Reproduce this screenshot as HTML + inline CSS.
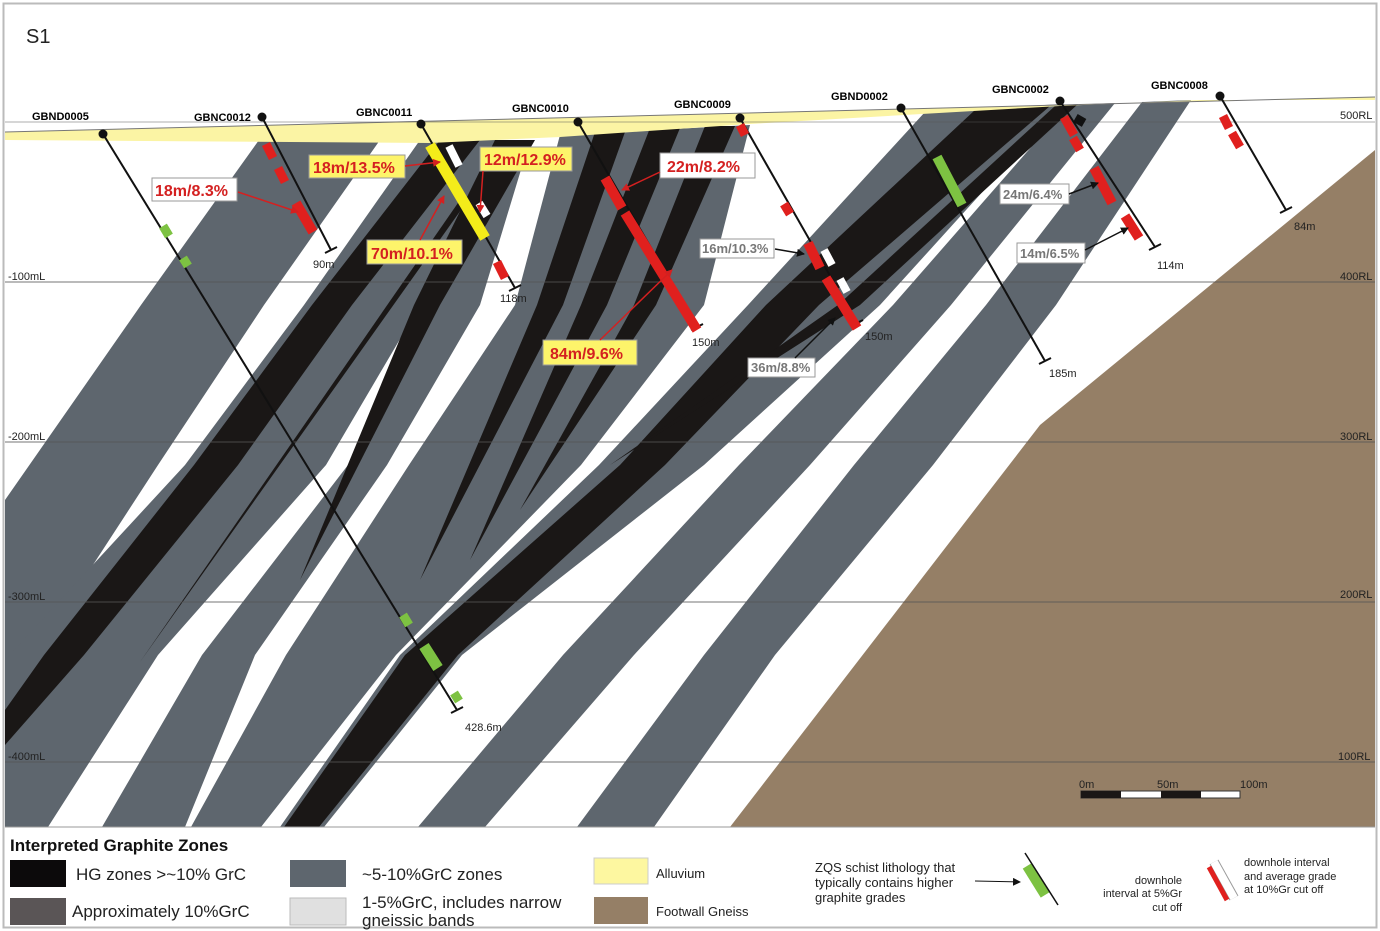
<!DOCTYPE html>
<html><head><meta charset="utf-8"><style>
body{margin:0;background:#fff}
svg{display:block}
text{font-family:"Liberation Sans",Arial,sans-serif}
.n{font-family:"Liberation Sans Narrow","Liberation Sans",sans-serif}
.hn{font-size:11px;font-weight:bold}
.gl{font-size:11px;fill:#222}
.lb{font-size:16px;font-weight:bold;fill:#d42020}
.lg{font-size:13px;font-weight:bold;fill:#777}
</style></head><body>
<svg width="1380" height="931" viewBox="0 0 1380 931" xmlns="http://www.w3.org/2000/svg">
<defs>
<marker id="ar" markerWidth="8" markerHeight="8" refX="7" refY="4" orient="auto" markerUnits="userSpaceOnUse"><path d="M0,0 L8,4 L0,8z" fill="#d42020"/></marker>
<marker id="ak" markerWidth="8" markerHeight="8" refX="7" refY="4" orient="auto" markerUnits="userSpaceOnUse"><path d="M0,0 L8,4 L0,8z" fill="#111"/></marker>
<clipPath id="c"><rect x="5" y="0" width="1370" height="827"/></clipPath>
</defs>
<rect x="0" y="0" width="1380" height="931" fill="#fff"/>
<rect x="3.5" y="3.5" width="1373" height="924" fill="none" stroke="#bbb" stroke-width="2"/>
<g clip-path="url(#c)">
<g fill="#5e666e">
<polygon points="259,140 380,140 264,305 158,465 5,700 5,500 141,305"/>
<polygon points="420,140 500,140 420,305 326,465 158,655 48,827 5,827 5,660 185,465 304,305"/>
<polygon points="500,140 530,140 480,305 387,465 255,655 185,827 102,827 202,655 348,465 420,305"/>
<polygon points="560,135 750,125 704,305 581,465 396,655 261,827 191,827 286,655 409,465 515,305"/>
<polygon points="925,112 1062,104 880,305 704,465 462,655 324,827 280,827 400,655 599,465 748,305"/>
<polygon points="1068,105 1115,103 951,305 810,465 634,655 485,827 418,827 563,655 739,465 893,305"/>
<polygon points="1142,102 1191,100 1056,305 933,465 775,655 654,827 577,827 704,655 854,465 986,305"/>
</g>
<g fill="#1a1716">
<polygon points="440,140 480,140 352,305 238,465 84,655 5,745 5,710 44,655 194,465 312,305"/>
<polygon points="460,200 468,200 140,662"/>
<polygon points="495,140 535,140 440,305 414,305"/>
<polygon points="414,305 440,305 300,580"/>
<polygon points="595,132 625,132 563,305 537,305"/>
<polygon points="537,305 563,305 420,580"/>
<polygon points="650,128 680,128 607,305 581,305"/>
<polygon points="581,305 607,305 470,560"/>
<polygon points="705,126 735,126 656,305 634,305"/>
<polygon points="634,305 656,305 520,510"/>
<polygon points="975,110 1050,106 819,305 665,465 458,655 319,827 284,827 405,655 620,465 766,305"/>
<polygon points="1055,106 1078,104 860,305 838,305"/>
<polygon points="838,305 860,305 610,465"/>
</g>
<polygon points="730,827 1040,425 1375,150 1375,827" fill="#957f66"/>
<polygon points="5,132 1375,97 1375,100 1200,100 1060,106 750,124 560,137 430,143 5,140" fill="#fbf4a4"/>
<polyline points="5,132 1375,97" fill="none" stroke="#777" stroke-width="1"/>
</g>
<g stroke="#555" stroke-width="1" opacity="0.8">
<line x1="5" y1="122" x2="1375" y2="122" stroke-opacity="0.6"/>
<line x1="5" y1="282" x2="1375" y2="282"/>
<line x1="5" y1="442" x2="1375" y2="442"/>
<line x1="5" y1="602" x2="1375" y2="602"/>
<line x1="5" y1="762" x2="1375" y2="762"/>
</g>
<line x1="5" y1="827" x2="1375" y2="827" stroke="#999"/>
<g class="gl n">
<text x="8" y="280">-100mL</text><text x="8" y="440">-200mL</text><text x="8" y="600">-300mL</text><text x="8" y="760">-400mL</text>
<text x="1340" y="119">500RL</text><text x="1340" y="280">400RL</text><text x="1340" y="440">300RL</text><text x="1340" y="598">200RL</text><text x="1338" y="760">100RL</text>
</g>
<text x="26" y="43" font-size="20" fill="#222">S1</text>
<g stroke="#111" stroke-width="2" fill="none">
<line x1="103" y1="134" x2="457" y2="710"/><line x1="451" y1="713" x2="463" y2="707"/>
<line x1="262" y1="117" x2="331" y2="250"/><line x1="325" y1="253" x2="337" y2="247"/>
<line x1="421" y1="124" x2="515" y2="288"/><line x1="509" y1="291" x2="521" y2="285"/>
<line x1="578" y1="122" x2="697" y2="327"/><line x1="691" y1="330" x2="703" y2="324"/>
<line x1="740" y1="118" x2="857" y2="323"/><line x1="851" y1="326" x2="863" y2="320"/>
<line x1="901" y1="108" x2="1045" y2="361"/><line x1="1039" y1="364" x2="1051" y2="358"/>
<line x1="1060" y1="101" x2="1155" y2="247"/><line x1="1149" y1="250" x2="1161" y2="244"/>
<line x1="1220" y1="96" x2="1286" y2="210"/><line x1="1280" y1="213" x2="1292" y2="207"/>
</g>
<g fill="#111">
<circle cx="103" cy="134" r="4.5"/><circle cx="262" cy="117" r="4.5"/><circle cx="421" cy="124" r="4.5"/><circle cx="578" cy="122" r="4.5"/><circle cx="740" cy="118" r="4.5"/><circle cx="901" cy="108" r="4.5"/><circle cx="1060" cy="101" r="4.5"/><circle cx="1220" cy="96" r="4.5"/>
<rect x="1075" y="116" width="10" height="9" transform="rotate(30 1080 120)"/>
</g>
<g stroke-width="9" stroke-linecap="butt">
<line x1="163" y1="226" x2="169" y2="236" stroke="#7dc242"/>
<line x1="183" y1="258" x2="188" y2="266" stroke="#7dc242"/>
<line x1="403" y1="615" x2="409" y2="625" stroke="#7dc242"/>
<line x1="424" y1="646" x2="438" y2="668" stroke="#7dc242" stroke-width="11"/>
<line x1="454" y1="693" x2="459" y2="701" stroke="#7dc242"/>
<line x1="937" y1="157" x2="962" y2="205" stroke="#7dc242" stroke-width="10"/>
<line x1="266" y1="144" x2="273" y2="158" stroke="#e0201e"/>
<line x1="278" y1="168" x2="285" y2="182" stroke="#e0201e"/>
<line x1="296" y1="203" x2="313" y2="232" stroke="#e0201e" stroke-width="10"/>
<line x1="430" y1="145" x2="485" y2="238" stroke="#f4ec1a" stroke-width="11"/>
<line x1="449" y1="146" x2="459" y2="166" stroke="#fff" stroke-width="8"/>
<line x1="479" y1="203" x2="487" y2="216" stroke="#fff" stroke-width="8"/>
<line x1="497" y1="262" x2="505" y2="278" stroke="#e0201e"/>
<line x1="605" y1="178" x2="622" y2="208" stroke="#e0201e" stroke-width="10"/>
<line x1="625" y1="213" x2="697" y2="330" stroke="#e0201e" stroke-width="10"/>
<line x1="740" y1="125" x2="745" y2="135" stroke="#e0201e"/>
<line x1="784" y1="204" x2="790" y2="214" stroke="#e0201e"/>
<line x1="808" y1="243" x2="820" y2="268" stroke="#e0201e" stroke-width="10"/>
<line x1="824" y1="250" x2="832" y2="265" stroke="#fff" stroke-width="8"/>
<line x1="826" y1="278" x2="857" y2="328" stroke="#e0201e" stroke-width="10"/>
<line x1="840" y1="279" x2="847" y2="292" stroke="#fff" stroke-width="8"/>
<line x1="1064" y1="117" x2="1074" y2="135" stroke="#e0201e"/>
<line x1="1073" y1="138" x2="1080" y2="150" stroke="#e0201e"/>
<line x1="1094" y1="168" x2="1112" y2="203" stroke="#e0201e" stroke-width="10"/>
<line x1="1125" y1="216" x2="1139" y2="238" stroke="#e0201e" stroke-width="10"/>
<line x1="1223" y1="116" x2="1229" y2="128" stroke="#e0201e"/>
<line x1="1232" y1="133" x2="1240" y2="147" stroke="#e0201e"/>
</g>
<g class="hn n">
<text x="32" y="120">GBND0005</text><text x="194" y="121">GBNC0012</text><text x="356" y="116">GBNC0011</text><text x="512" y="112">GBNC0010</text><text x="674" y="108">GBNC0009</text><text x="831" y="100">GBND0002</text><text x="992" y="93">GBNC0002</text><text x="1151" y="89">GBNC0008</text>
</g>
<g class="gl n">
<text x="313" y="268">90m</text><text x="500" y="302">118m</text><text x="692" y="346">150m</text><text x="865" y="340">150m</text><text x="1049" y="377">185m</text><text x="1157" y="269">114m</text><text x="1294" y="230">84m</text><text x="465" y="731">428.6m</text>
</g>
<g stroke="#999" stroke-width="1">
<rect x="152" y="178" width="85" height="23" fill="#fff"/>
<rect x="309" y="155" width="96" height="23" fill="#fdf46a"/>
<rect x="480" y="147" width="92" height="24" fill="#fdf46a"/>
<rect x="367" y="240" width="95" height="24" fill="#fdf46a"/>
<rect x="660" y="153" width="95" height="25" fill="#fff"/>
<rect x="543" y="340" width="94" height="25" fill="#fdf46a"/>
<rect x="700" y="239" width="74" height="19" fill="#fff"/>
<rect x="748" y="358" width="67" height="19" fill="#fff"/>
<rect x="1000" y="184" width="69" height="20" fill="#fff"/>
<rect x="1017" y="243" width="68" height="20" fill="#fff"/>
</g>
<g class="n">
<text class="lb" x="155" y="196">18m/8.3%</text>
<text class="lb" x="313" y="173">18m/13.5%</text>
<text class="lb" x="484" y="165">12m/12.9%</text>
<text class="lb" x="371" y="259">70m/10.1%</text>
<text class="lb" x="667" y="172">22m/8.2%</text>
<text class="lb" x="550" y="359">84m/9.6%</text>
<text class="lg" x="702" y="253">16m/10.3%</text>
<text class="lg" x="751" y="372">36m/8.8%</text>
<text class="lg" x="1003" y="199">24m/6.4%</text>
<text class="lg" x="1020" y="258">14m/6.5%</text>
</g>
<g stroke="#d42020" stroke-width="1.5" fill="none" marker-end="url(#ar)">
<line x1="238" y1="192" x2="298" y2="212"/>
<line x1="405" y1="166" x2="440" y2="162"/>
<line x1="483" y1="171" x2="480" y2="212"/>
<line x1="420" y1="240" x2="444" y2="196"/>
<line x1="660" y1="172" x2="622" y2="190"/>
<line x1="600" y1="340" x2="672" y2="270"/>
</g>
<g stroke="#111" stroke-width="1.5" fill="none" marker-end="url(#ak)">
<line x1="775" y1="249" x2="804" y2="254"/>
<line x1="795" y1="358" x2="835" y2="318"/>
<line x1="1069" y1="194" x2="1098" y2="183"/>
<line x1="1085" y1="250" x2="1128" y2="228"/>
</g>
<rect x="1081" y="791" width="159" height="7" fill="#fff" stroke="#333" stroke-width="1"/>
<rect x="1081" y="791" width="40" height="7" fill="#1a1716"/>
<rect x="1161" y="791" width="40" height="7" fill="#1a1716"/>
<g class="gl n"><text x="1079" y="788">0m</text><text x="1157" y="788">50m</text><text x="1240" y="788">100m</text></g>
<text x="10" y="851" font-size="17" font-weight="bold" class="n" fill="#111">Interpreted Graphite Zones</text>
<rect x="10" y="860" width="56" height="27" fill="#0c0a0b"/>
<rect x="10" y="898" width="56" height="27" fill="#5a5556"/>
<rect x="290" y="860" width="56" height="27" fill="#5e666e"/>
<rect x="290" y="898" width="56" height="27" fill="#e0e0e0" stroke="#bbb"/>
<rect x="594" y="858" width="54" height="26" fill="#fdf7a0" stroke="#ccc"/>
<rect x="594" y="897" width="54" height="27" fill="#957f66"/>
<g class="n" fill="#222" font-size="17">
<text x="76" y="880">HG zones &gt;~10% GrC</text>
<text x="72" y="917">Approximately 10%GrC</text>
<text x="362" y="880">~5-10%GrC zones</text>
<text x="362" y="908">1-5%GrC, includes narrow</text>
<text x="362" y="926">gneissic bands</text>
</g>
<g class="n" fill="#222" font-size="13">
<text x="656" y="878">Alluvium</text>
<text x="656" y="916">Footwall Gneiss</text>
<text x="815" y="872">ZQS schist lithology that</text>
<text x="815" y="887">typically contains higher</text>
<text x="815" y="902">graphite grades</text>
</g>
<line x1="975" y1="881" x2="1020" y2="882" stroke="#111" stroke-width="1" marker-end="url(#ak)"/>
<line x1="1027" y1="866" x2="1045" y2="895" stroke="#7dc242" stroke-width="10"/>
<line x1="1025" y1="853" x2="1058" y2="905" stroke="#111" stroke-width="1.5"/>
<line x1="1214" y1="862" x2="1234" y2="898" stroke="#999" stroke-width="10"/>
<line x1="1214" y1="862" x2="1234" y2="898" stroke="#fff" stroke-width="8"/>
<line x1="1209" y1="867" x2="1227" y2="900" stroke="#e0201e" stroke-width="5"/>
<g class="n" fill="#222" font-size="11">
<text x="1182" y="884" text-anchor="end">downhole</text>
<text x="1182" y="897" text-anchor="end">interval at 5%Gr</text>
<text x="1182" y="911" text-anchor="end">cut off</text>
<text x="1244" y="866">downhole interval</text>
<text x="1244" y="880">and average grade</text>
<text x="1244" y="893">at 10%Gr cut off</text>
</g>
</svg>
</body></html>
